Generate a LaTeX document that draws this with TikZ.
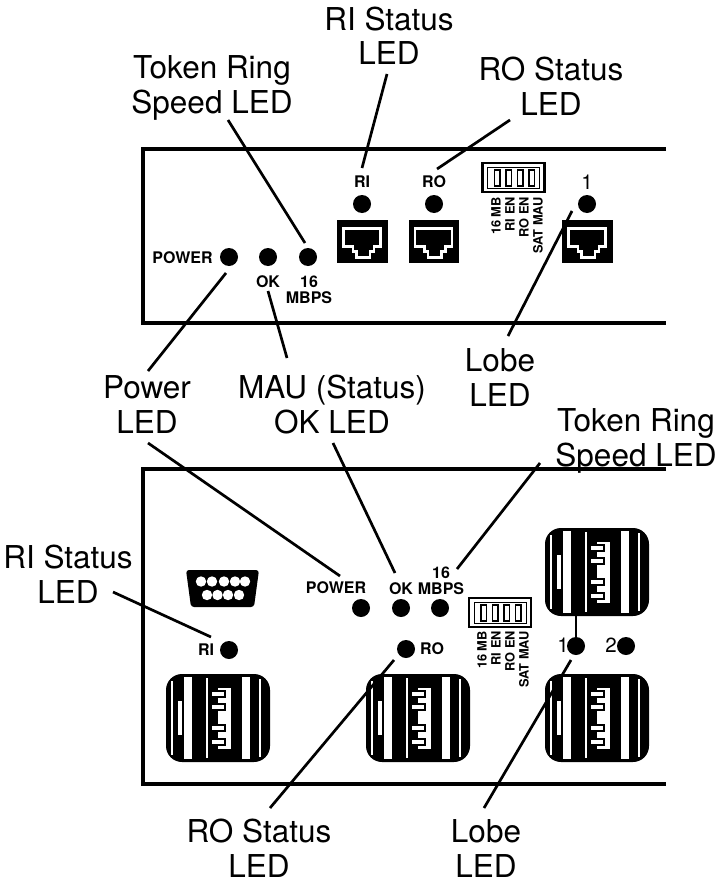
\documentclass[tikz,border=0pt]{standalone}
\usepackage{fontspec}
\setmainfont{TeX Gyre Heros}
\tikzset{
  panel/.style={draw=black,line width=4pt,miter limit=10},
  lead/.style={draw=black,line width=2.7pt},
  led/.style={circle,fill=black,inner sep=0pt,minimum size=18pt},
  callout/.style={inner sep=0pt,align=center,anchor=base,font=\fontsize{31.5}{34.5}\selectfont},
  tag/.style={inner sep=0pt,align=center,font=\fontsize{16}{16}\selectfont\bfseries},
  swtag/.style={inner sep=0pt,rotate=90,anchor=east,font=\fontsize{12.8}{13}\selectfont\bfseries},
  numtag/.style={inner sep=0pt,font=\fontsize{20.5}{20}\selectfont},
  pics/rjport/.style={code={
    \fill[black] (0,0) rectangle (50.5,43);
    \draw[white,line width=2.5pt,fill=black] (6.3,8.3) -- (43.7,8.3) -- (43.7,26.7) -- (37,26.7) -- (37,31.7) -- (33,31.7) -- (33,37.7) -- (19.7,37.7) -- (19.7,31.7) -- (16,31.7) -- (16,26.7) -- (6.3,26.7) -- cycle;
  }},
  pics/usbport/.style={code={
    \fill[black,rounded corners=16pt] (0,0) -- (104,0) -- (104,88) -- (0,88) -- cycle;
    \fill[white] (5.4,7) rectangle (6.9,81);
    \fill[white] (18,3) rectangle (26,85);
    \fill[white] (12,27) rectangle (15.5,61);
    \fill[white] (40.3,4) rectangle (41.8,84);
    \fill[white] (76,3) rectangle (84,85);
    \fill[white] (93.3,5) rectangle (94.8,83);
    \fill[white] (52,14) rectangle (65,75);
    \foreach \fy in {20,33,54,68}{
      \fill[black] (47,\fy-4) rectangle (60,\fy+4);
      \fill[white] (46,\fy-2) rectangle (58,\fy+2);
    }
  }},
  pics/dipsw/.style={code={
    \draw[black,line width=2.4pt] (0,0) rectangle (62,29);
    \draw[black,line width=.9pt] (5,4) rectangle (57,25.5);
    \foreach \sx in {12,23.5,35,46.5}{
      \draw[black,line width=1.1pt] (\sx,7) rectangle (\sx+5.5,23);
    }
  }}
}
\begin{document}
\begin{tikzpicture}[x=1pt,y=-1pt]
\useasboundingbox (0,0) rectangle (717,883);
% panels
\draw[panel] (666,149) -- (143,149) -- (143,323) -- (666,323);
\draw[panel] (666,469) -- (143,469) -- (143,784) -- (666,784);

% --- upper panel ---
\pic at (337,220) {rjport};
\pic at (408.5,220) {rjport};
\pic at (562,220) {rjport};
\pic at (482.5,163) {dipsw};
\node[swtag] (ua) at (496,197) {16 MB};
\node[swtag] (ub) at (510,197) {RI EN};
\node[swtag] (uc) at (524,197) {RO EN};
\node[swtag] (ud) at (538,197) {SAT MAU};

\node[led] (upower) at (229,257) {};
\node[led] (uok) at (268,257) {};
\node[led] (uspeed) at (308,257) {};
\node[led] (uri) at (362,204) {};
\node[led] (uro) at (434,204) {};
\node[led] (ulobe) at (587,204) {};

\node[tag] (tpower) at (182.5,258) {POWER};
\node[tag] (tok) at (268,281.5) {OK};
\node[tag] (t16) at (309,289.5) {16\\MBPS};
\node[tag] (tri) at (362,182) {RI};
\node[tag] (tro) at (434,182) {RO};
\node[numtag] (tone) at (587,182) {1};

\node[callout] (cri) at (389,65) {RI Status\\LED};
\node[callout] (cspeed) at (212,113) {Token Ring\\Speed LED};
\node[callout] (cro) at (551,115) {RO Status\\LED};
\node[callout] (clobe) at (500,406) {Lobe\\LED};
\node[callout] (cpower) at (147,433) {Power\\LED};
\node[callout] (cmau) at (332,433) {MAU (Status)\\OK LED};

\coordinate (a1) at (362,168); \coordinate (a2) at (387,74);
\coordinate (b1) at (437,169); \coordinate (b2) at (510,120);
\coordinate (c1) at (305,243); \coordinate (c2) at (228,120);
\coordinate (d1) at (572,211); \coordinate (d2) at (508,336);
\coordinate (e1) at (226,273); \coordinate (e2) at (148,371);
\coordinate (f1) at (268,291); \coordinate (f2) at (287,358);
\draw[lead] (a1) -- (a2);
\draw[lead] (b1) -- (b2);
\draw[lead] (c1) -- (c2);
\draw[lead] (d1) -- (d2);
\draw[lead] (e1) -- (e2);
\draw[lead] (f1) -- (f2);

% --- lower panel ---
\pic at (166,674) {usbport};
\pic at (366,674) {usbport};
\pic at (545,528) {usbport};
\pic at (545,674) {usbport};
\pic at (469,598) {dipsw};
\node[swtag] (la) at (482,631) {16 MB};
\node[swtag] (lb) at (496,631) {RI EN};
\node[swtag] (lc) at (510,631) {RO EN};
\node[swtag] (ld) at (524,631) {SAT MAU};

% serial connector
\fill[black,rounded corners=3pt] (186,570) -- (259,570) -- (254,607) -- (191,607) -- cycle;
\foreach \hx in {201,212,224,235,245}{\fill[white] (\hx,581.5) circle (5.2pt);}
\foreach \hx in {207,217.5,228,239}{\fill[white] (\hx,595) circle (5.2pt);}

\node[led] (lpower) at (361,608) {};
\node[led] (lok) at (401,608) {};
\node[led] (lspeed) at (440,608) {};
\node[led] (lri) at (229,650) {};
\node[led] (lro) at (406,649) {};
\node[led] (lone) at (576,646) {};
\node[led] (ltwo) at (626,646) {};

\node[tag] (vpower) at (336,588) {POWER};
\node[tag] (vok) at (401,589) {OK};
\node[tag] (v16) at (441,581) {16\\MBPS};
\node[tag] (vri) at (206,650) {RI};
\node[tag] (vro) at (432,649) {RO};
\node[numtag] (vone) at (563,645) {1};
\node[numtag] (vtwo) at (611,645) {2};

\node[callout] (dspeed) at (636,466) {Token Ring\\Speed LED};
\node[callout] (dri) at (68,603) {RI Status\\LED};
\node[callout] (dro) at (259,877) {RO Status\\LED};
\node[callout] (dlobe) at (486,877) {Lobe\\LED};

\coordinate (g1) at (148,443); \coordinate (g2) at (340,576);
\coordinate (h1) at (333,443); \coordinate (h2) at (395,573);
\coordinate (i1) at (457,569); \coordinate (i2) at (540,463);
\coordinate (j1) at (211,637); \coordinate (j2) at (113,592);
\coordinate (k1) at (394,660); \coordinate (k2) at (270,808);
\coordinate (m1) at (571,660); \coordinate (m2) at (484,808);
\coordinate (n1) at (576,616);
\draw[lead] (g1) -- (g2);
\draw[lead] (h1) -- (h2);
\draw[lead] (i1) -- (i2);
\draw[lead] (j1) -- (j2);
\draw[lead] (k1) -- (k2);
\draw[lead] (m1) -- (m2);
\draw[black,line width=1.4pt] (n1) -- (lone);
\end{tikzpicture}
\end{document}
